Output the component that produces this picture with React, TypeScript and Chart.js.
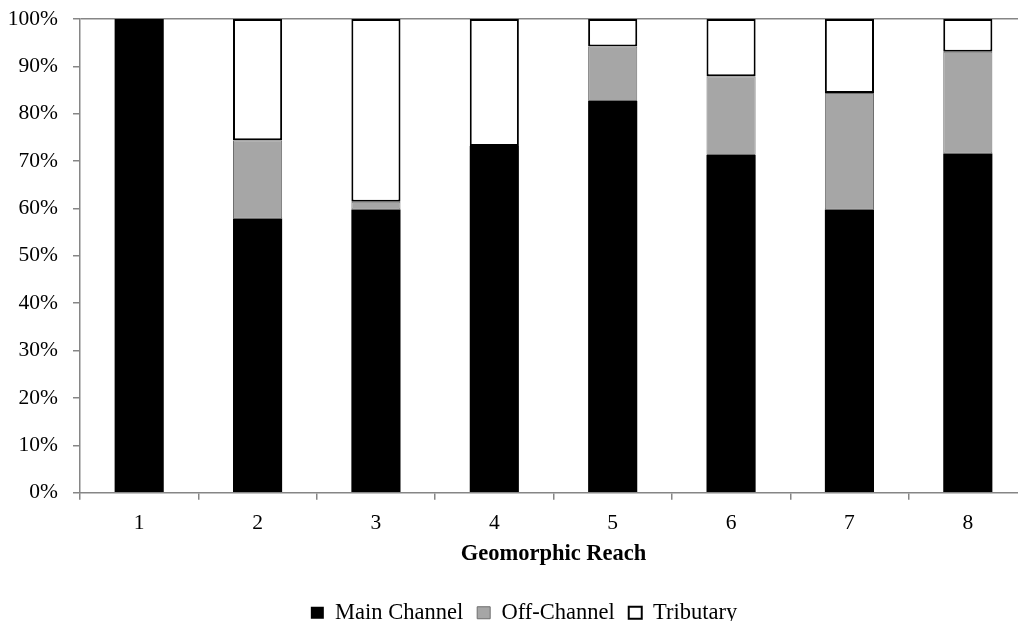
import Chart from 'chart.js/auto'
import { useEffect, useRef } from 'react'

// reaches along the x axis
const reaches = ['1', '2', '3', '4', '5', '6', '7', '8']

// share of each habitat type per reach (%)
const mainChannel = [100, 57.9, 59.8, 73.2, 82.7, 71.3, 59.8, 71.6]
const offChannel = [0, 16.5, 1.6, 0, 11.5, 16.6, 24.6, 21.5]
const tributary = [0, 25.6, 38.6, 26.8, 5.8, 12.1, 15.6, 6.9]

const yTicks = [0, 10, 20, 30, 40, 50, 60, 70, 80, 90, 100]

const FONT = '"Liberation Serif", "Times New Roman", serif'
const AXIS_GREY = '#868686'

const App = () => {
  const canvasRef = useRef<HTMLCanvasElement | null>(null)

  useEffect(() => {
    const ctx = canvasRef.current?.getContext('2d')
    if (!ctx) return

    const chart = new Chart(ctx, {
      type: 'bar',
      data: {
        labels: reaches,
        datasets: [
          {
            label: 'Main Channel',
            data: mainChannel,
            backgroundColor: '#000000',
            borderColor: '#000000',
            borderWidth: 0
          },
          {
            label: 'Off-Channel',
            data: offChannel,
            backgroundColor: '#A6A6A6',
            borderColor: '#6E6E6E',
            borderWidth: 1,
            borderSkipped: false
          },
          {
            label: 'Tributary',
            data: tributary,
            backgroundColor: '#FFFFFF',
            borderColor: '#000000',
            borderWidth: 2,
            borderSkipped: false
          }
        ]
      },
      options: {
        responsive: true,
        maintainAspectRatio: false,
        animation: false,
        datasets: {
          bar: {
            barPercentage: 0.415,
            categoryPercentage: 1
          }
        },
        layout: {
          padding: { top: 10, left: 0, right: 0, bottom: 0 }
        },
        plugins: {
          tooltip: { enabled: false },
          legend: {
            position: 'bottom',
            labels: {
              color: '#000000',
              boxWidth: 13,
              boxHeight: 12,
              padding: 14,
              font: { family: FONT, size: 22.5 }
            }
          }
        },
        scales: {
          x: {
            stacked: true,
            border: { display: true, color: AXIS_GREY, width: 1.5 },
            grid: {
              offset: true,
              drawOnChartArea: false,
              tickLength: 7,
              color: AXIS_GREY,
              lineWidth: 1.5
            },
            ticks: {
              color: '#000000',
              padding: 11,
              font: { family: FONT, size: 21.5 }
            },
            title: {
              display: true,
              text: 'Geomorphic Reach',
              color: '#000000',
              padding: { top: -7, bottom: 20 },
              font: { family: FONT, size: 22.5, weight: 'bold' }
            }
          },
          y: {
            stacked: true,
            min: 0,
            max: 100,
            afterBuildTicks: (axis: any) => {
              axis.ticks = yTicks.map((value) => ({ value }))
            },
            afterFit: (axis: any) => {
              axis.width = 80
            },
            border: { display: true, color: AXIS_GREY, width: 1.5 },
            grid: {
              tickLength: 7,
              lineWidth: 1.5,
              tickColor: AXIS_GREY,
              // only the 100% line closes the top of the plot
              color: (c: any) => (c.tick && c.tick.value === 100 ? AXIS_GREY : 'rgba(0,0,0,0)')
            },
            ticks: {
              color: '#000000',
              padding: 15,
              font: { family: FONT, size: 21.5, lineHeight: 0.37 },
              callback: (value: any) => `${value}%`
            }
          },
          // empty strip on the right so the plot ends where the original did
          spacer: {
            type: 'linear',
            position: 'right',
            display: true,
            grid: { display: false },
            border: { display: false },
            ticks: { display: false },
            afterFit: (axis: any) => {
              axis.width = 21
            }
          }
        }
      }
    })

    return () => {
      chart.destroy()
    }
  }, [])

  return (
    <div
      style={{
        position: 'absolute',
        left: 0,
        top: 0,
        width: 1018,
        height: 621,
        overflow: 'hidden',
        background: '#ffffff'
      }}
    >
      <div style={{ position: 'relative', width: 1048, height: 634 }}>
        <canvas ref={canvasRef} />
      </div>
    </div>
  )
}

export default App
